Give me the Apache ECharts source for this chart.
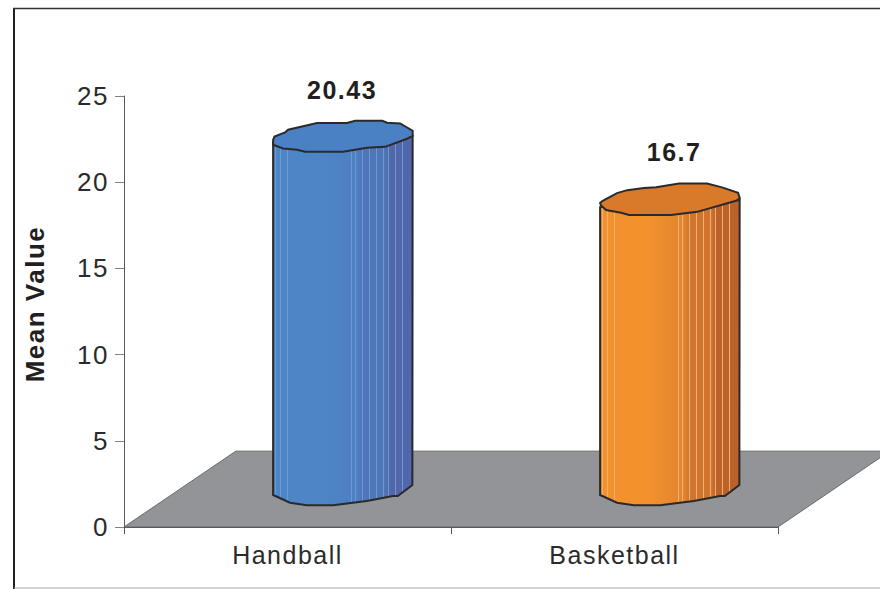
<!DOCTYPE html>
<html>
<head>
<meta charset="utf-8">
<script src="https://cdn.jsdelivr.net/npm/echarts@6/dist/echarts.min.js"></script>
<style>
html,body{margin:0;padding:0;background:#fff}
#c{width:880px;height:589px}
svg text{letter-spacing:1.5px}
</style>
</head>
<body>
<div id="c"></div>
<script>
const categories = ['Handball', 'Basketball'];
const meanValues = [20.43, 16.7];
const valueLabels = ['20.43', '16.7'];
const yTicks = { min: 0, max: 25, interval: 5 };
const yTitle = 'Mean Value';

const palette = [
  { top: '#4a80c4', stops: [[0,'#4a87ca'],[0.35,'#4d85c6'],[0.6,'#4e80c2'],[0.8,'#4f76b8'],[1,'#5267aa']], stripe: '#6a9ad2' },
  { top: '#d97a2a', stops: [[0,'#f7952c'],[0.35,'#f3912d'],[0.6,'#e4862e'],[0.8,'#cf752e'],[1,'#bb622b']], stripe: '#f3ae6e' }
];
const stripes = [0.02, 0.05, 0.1, 0.56, 0.59, 0.64, 0.69, 0.74, 0.79, 0.83, 0.88, 0.93];

// outlines as offsets from the cylinder's left shoulder, in fractions of the bar width
const topRims = [
  [[0,-.02],[.01,-.045],[.085,-.074],[.107,-.093],[.314,-.141],[.528,-.141],[.586,-.157],[.78,-.157],[.814,-.143],[.907,-.138],[.997,-.086],[.997,-.05],[.957,-.029],[.8,.029],[.671,.036],[.5,.064],[.229,.064],[.171,.05],[.071,.041],[0,.014]],
  [[0,-.03],[.015,-.043],[.121,-.1],[.193,-.121],[.314,-.136],[.4,-.141],[.564,-.169],[.764,-.169],[.871,-.141],[.986,-.102],[.998,-.062],[.971,-.045],[.693,.034],[.507,.057],[.207,.057],[.15,.041],[.043,.021],[.005,-.014]]
];
const bottomRim = [[0,0],[.121,.055],[.241,.074],[.429,.074],[.669,.043],[.857,.007],[.891,.007],[.995,-.071]];

const barWidthRatio = 0.428;   // of one category band
const barShiftRatio = 0.17;    // 3D shift of the bars to the right of the band centre
const shoulderLift = 32;       // bar baseline sits above the axis zero in the 3D view
const labelLift = 85.5;
const labelNudge = [[-1, 1], [4, -2]];

function bodyFill(p) {
  const eps = 0.0032;
  const colorAt = t => {
    for (let i = 1; i < p.stops.length; i++) {
      if (t <= p.stops[i][0]) return p.stops[i][1];
    }
    return p.stops[p.stops.length - 1][1];
  };
  const list = [];
  p.stops.forEach(s => list.push({ offset: s[0], color: s[1] }));
  stripes.forEach(t => {
    const c = colorAt(t);
    list.push({ offset: t - eps, color: c });
    list.push({ offset: t - eps + 0.0001, color: p.stripe });
    list.push({ offset: t + eps, color: p.stripe });
    list.push({ offset: t + eps + 0.0001, color: c });
  });
  list.sort((a, b) => a.offset - b.offset);
  return new echarts.graphic.LinearGradient(0, 0, 1, 0, list);
}

function renderFloor(params, api) {
  const cs = params.coordSys;
  const y0 = api.coord([0, 0])[1];
  const depthY = y0 - api.coord([0, 4.4])[1];
  const depthX = depthY * 112 / 76;
  return {
    type: 'polygon',
    shape: { points: [[cs.x, y0], [cs.x + depthX, y0 - depthY], [cs.x + cs.width + depthX, y0 - depthY], [cs.x + cs.width, y0]] },
    style: { fill: '#929497', stroke: '#6a6b6e', lineWidth: 1 }
  };
}

function renderBar(params, api) {
  const i = params.dataIndex;
  const band = api.size([1, 0])[0];
  const w = band * barWidthRatio;
  const centre = api.coord([i, 0])[0] + band * barShiftRatio;
  const left = centre - w / 2;
  const yTop = api.coord([i, api.value(1)])[1] - shoulderLift;
  const yBase = api.coord([i, 0])[1] - shoulderLift;
  const rim = topRims[i].map(q => [left + q[0] * w, yTop + q[1] * w]);
  const bottom = bottomRim.map(q => [left + q[0] * w, yBase + q[1] * w]);
  const rightTop = [left + w * 0.997, yTop - 0.05 * w];
  const body = [[left, yTop]].concat(bottom, [rightTop]);
  return {
    type: 'group',
    children: [
      { type: 'polygon', shape: { points: body }, style: { fill: bodyFill(palette[i]), stroke: '#2a2a2a', lineWidth: 2 } },
      { type: 'polygon', shape: { points: rim }, style: { fill: palette[i].top, stroke: '#2a2a2a', lineWidth: 2 } },
      { type: 'text', x: centre + labelNudge[i][0], y: api.coord([i, api.value(1)])[1] - labelLift + labelNudge[i][1],
        style: { text: valueLabels[i], x: 0, y: 0, align: 'center', verticalAlign: 'middle',
                 font: 'bold 25px "Liberation Sans"', fill: '#231f20' } }
    ]
  };
}

const chart = echarts.init(document.getElementById('c'), null, { renderer: 'svg', width: 880, height: 589 });
chart.setOption({
  animation: false,
  backgroundColor: '#fff',
  grid: { left: 124, right: 102, top: 96, bottom: 62, containLabel: false },
  xAxis: {
    type: 'category',
    data: categories,
    axisLine: { lineStyle: { color: '#58595b', width: 1.2 } },
    axisTick: { show: true, length: 7, lineStyle: { color: '#58595b' }, alignWithLabel: false },
    axisLabel: { color: '#2b2b2b', fontFamily: 'Liberation Sans', fontSize: 25, margin: 15 },
    splitLine: { show: false }
  },
  yAxis: {
    type: 'value',
    min: yTicks.min, max: yTicks.max, interval: yTicks.interval,
    name: yTitle,
    nameLocation: 'middle',
    nameGap: 76,
    nameTextStyle: { color: '#231f20', fontFamily: 'Liberation Sans', fontSize: 26, fontWeight: 'bold', padding: [0, 0, 0, 15] },
    axisLine: { show: true, lineStyle: { color: '#58595b', width: 1 } },
    axisTick: { show: true, length: 9, lineStyle: { color: '#808285' } },
    axisLabel: { color: '#2b2b2b', fontFamily: 'Liberation Sans', fontSize: 26, margin: 15 },
    splitLine: { show: false }
  },
  series: [
    { type: 'custom', name: 'floor', z: 0, silent: true, clip: false, renderItem: renderFloor, data: [[0, 0]], encode: { x: 0, y: 1 } },
    { type: 'custom', name: 'Mean Value', z: 5, clip: false, renderItem: renderBar,
      data: categories.map((c, i) => [i, meanValues[i]]), encode: { x: 0, y: 1 } }
  ],
  graphic: [
    { type: 'line', silent: true, z: 10, shape: { x1: 14, y1: 8, x2: 14, y2: 589 }, style: { stroke: '#231f20', lineWidth: 2 } },
    { type: 'line', silent: true, z: 10, shape: { x1: 13, y1: 8.5, x2: 880, y2: 8.5 }, style: { stroke: '#333', lineWidth: 1.5 } },
    { type: 'line', silent: true, z: 10, shape: { x1: 14, y1: 588, x2: 880, y2: 588 }, style: { stroke: '#aaa', lineWidth: 1 } }
  ]
});
</script>
</body>
</html>
